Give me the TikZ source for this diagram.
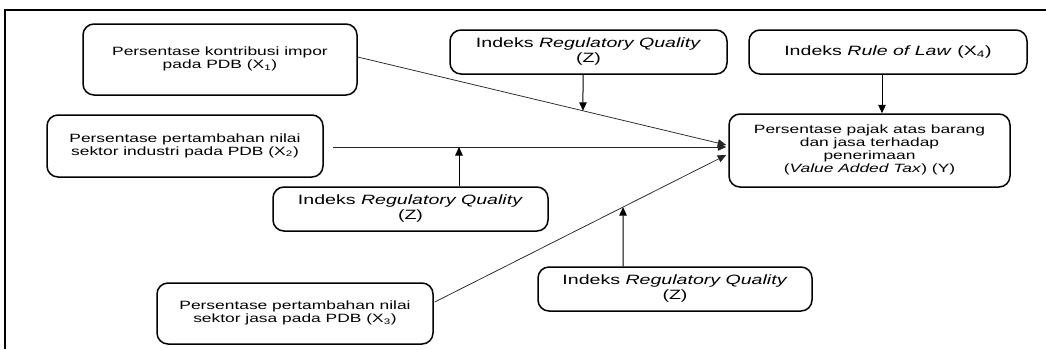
\documentclass[tikz,border=0pt]{standalone}
\usepackage{fontspec}
\setmainfont{Liberation Sans}
\usetikzlibrary{arrows.meta,calc}
\newcommand\stx[1]{\scalebox{1.45}[1]{\begin{tabular}{@{}c@{}}#1\end{tabular}}}
\begin{document}
\begin{tikzpicture}[x=1pt,y=-1pt,
  box/.style={draw=black, line width=1.5pt, rounded corners=11pt, inner sep=0pt, align=center},
  smalltxt/.style={font=\fontsize{12}{13}\selectfont},
  bigtxt/.style={font=\fontsize{13.5}{15}\selectfont},
  link/.style={draw=black!85, line width=0.75pt, -{Triangle[length=8.5pt,width=7.5pt]}},
  vlink/.style={draw=black, line width=1pt, -{Triangle[length=8.5pt,width=7.5pt]}},
  frameline/.style={draw=black, line width=1.4pt}]
\useasboundingbox (0,0) rectangle (1046,349);
\draw[frameline] (5,349) -- (5,10) -- (1046,10);

\node[box, smalltxt, minimum width=274pt, minimum height=71pt] (x1) at (220,59.5)
  {\stx{Persentase kontribusi impor\\pada PDB (X\textsubscript{1})}};
\node[box, bigtxt, minimum width=277pt, minimum height=44pt] (rqt) at (588.5,52)
  {\stx{Indeks \textit{Regulatory Quality}\\(Z)}};
\node[box, bigtxt, minimum width=278pt, minimum height=44pt] (rol) at (888,52)
  {\stx{Indeks \textit{Rule of Law} (X\textsubscript{4})}};
\node[box, smalltxt, minimum width=281pt, minimum height=73pt] (y) at (869.5,150.5)
  {\stx{Persentase pajak atas barang\\dan jasa terhadap\\penerimaan\\(\textit{Value Added Tax}) (Y)}};
\node[box, smalltxt, minimum width=276pt, minimum height=62pt] (x2) at (185,146)
  {\stx{Persentase pertambahan nilai\\sektor industri pada PDB (X\textsubscript{2})}};
\node[box, bigtxt, minimum width=275pt, minimum height=44pt] (rqm) at (410.5,209)
  {\stx{Indeks \textit{Regulatory Quality}\\(Z)}};
\node[box, bigtxt, minimum width=274pt, minimum height=44pt] (rqb) at (675,289)
  {\stx{Indeks \textit{Regulatory Quality}\\(Z)}};
\node[box, smalltxt, minimum width=276pt, minimum height=61pt] (x3) at (295,313.5)
  {\stx{Persentase pertambahan nilai\\sektor jasa pada PDB (X\textsubscript{3})}};

% main connectors
\coordinate (x1o) at ([yshift=2.5pt]x1.east);
\coordinate (x1i) at ([yshift=5.5pt,xshift=-2pt]y.west);
\coordinate (x2o) at ([xshift=9pt,yshift=-1pt]x2.east);
\coordinate (x2i) at ([yshift=3.5pt,xshift=-2pt]y.west);
\coordinate (x3o) at ([yshift=11.5pt,xshift=1pt]x3.east);
\coordinate (x3i) at ([yshift=-4.5pt,xshift=-2pt]y.west);
\draw[link] (x1o) -- (x1i);
\draw[link] (x2o) -- (x2i);
\draw[link] (x3o) -- (x3i);

% moderator arrows
\coordinate (rqts) at ([xshift=-5.5pt]rqt.south);
\coordinate (rqtd) at ([yshift=-80pt]rqts);
\draw[vlink] (rqts) -- (intersection of rqts--rqtd and x1o--x1i);
\coordinate (rqmn) at ([xshift=48.5pt]rqm.north);
\draw[vlink] (rqmn) -- (rqmn |- x2o);
\coordinate (rqbn) at ([xshift=-52pt]rqb.north);
\coordinate (rqbu) at ([yshift=100pt]rqbn);
\draw[vlink] (rqbn) -- (intersection of rqbn--rqbu and x3o--x3i);
\coordinate (rols) at ([xshift=-6pt]rol.south);
\draw[vlink] (rols) -- (rols |- y.north);
\end{tikzpicture}
\end{document}
